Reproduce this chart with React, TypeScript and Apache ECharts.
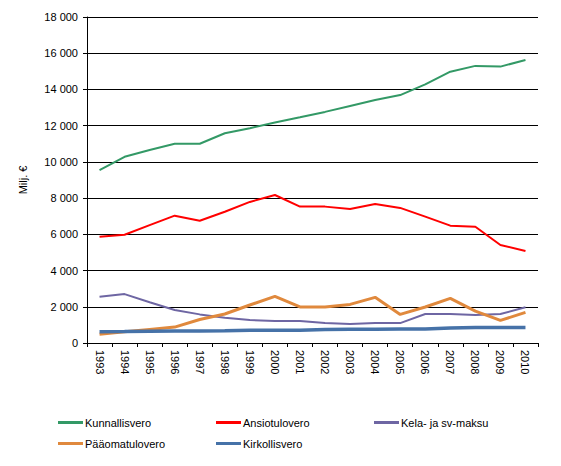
import { useEffect, useRef } from "react";
import * as echarts from "echarts";

const years = [
  "1993", "1994", "1995", "1996", "1997", "1998", "1999", "2000", "2001",
  "2002", "2003", "2004", "2005", "2006", "2007", "2008", "2009", "2010",
];

const kunnallisvero = [
  9550, 10280, 10660, 11000, 11000, 11580, 11860, 12170, 12460, 12760, 13090,
  13420, 13690, 14280, 14980, 15300, 15260, 15630,
];
const ansiotulovero = [
  5870, 5980, 6510, 7030, 6750, 7250, 7790, 8170, 7530, 7530, 7400, 7680,
  7460, 6980, 6480, 6420, 5410, 5080,
];
const kelaMaksu = [
  2560, 2700, 2250, 1820, 1580, 1400, 1270, 1210, 1210, 1100, 1050, 1100,
  1100, 1600, 1600, 1550, 1600, 1970,
];
const paaomatulovero = [
  480, 620, 750, 880, 1300, 1600, 2100, 2570, 1990, 1990, 2130, 2520, 1580,
  1990, 2460, 1760, 1250, 1690,
];
const kirkollisvero = [
  620, 630, 650, 660, 660, 670, 700, 710, 710, 740, 760, 760, 770, 770, 830,
  850, 850, 850,
];

const yTicks = { min: 0, max: 18000, interval: 2000 };

const font = "'Liberation Sans', Arial, sans-serif";

function line(name: string, data: number[], color: string, width: number) {
  return {
    name,
    type: "line",
    data,
    symbol: "none",
    color,
    lineStyle: { color, width },
  };
}

function legend(left: number, names: string[]) {
  return {
    left,
    top: 412,
    orient: "vertical",
    icon: "rect",
    itemWidth: 25,
    itemHeight: 3,
    itemGap: 10,
    data: names,
    textStyle: { fontFamily: font, fontSize: 11, color: "#000", padding: [0, 0, 0, -3] },
  };
}

function Chart() {
  const chartRef = useRef<HTMLDivElement>(null);

  useEffect(() => {
    if (!chartRef.current) return;
    const chart = echarts.init(chartRef.current, undefined, { renderer: "svg" });

    chart.setOption({
      animation: false,
      textStyle: { fontFamily: font },
      grid: { left: 87, right: 23, top: 17, bottom: 123 },
      legend: [
        legend(53, ["Kunnallisvero", "Pääomatulovero"]),
        legend(211, ["Ansiotulovero", "Kirkollisvero"]),
        legend(369, ["Kela- ja sv-maksu"]),
      ],
      xAxis: {
        type: "category",
        data: years,
        boundaryGap: true,
        axisLine: { lineStyle: { color: "#000", width: 1 } },
        axisTick: { show: true, length: 4, lineStyle: { color: "#000" } },
        axisLabel: {
          rotate: -90,
          color: "#000",
          fontSize: 11,
          fontFamily: font,
          margin: 7,
          interval: 0,
        },
      },
      yAxis: {
        type: "value",
        min: yTicks.min,
        max: yTicks.max,
        interval: yTicks.interval,
        name: "Milj. €",
        nameLocation: "middle",
        nameRotate: 90,
        nameGap: 59,
        nameTextStyle: { color: "#000", fontSize: 11, fontFamily: font },
        axisLine: { show: true, lineStyle: { color: "#000", width: 1 } },
        axisTick: { show: true, length: 4, lineStyle: { color: "#000" } },
        splitLine: { lineStyle: { color: "#000", width: 1 } },
        axisLabel: {
          color: "#000",
          fontSize: 11,
          fontFamily: font,
          margin: 9,
          formatter: (v: number) =>
            String(v).replace(/\B(?=(\d{3})+(?!\d))/g, " "),
        },
      },
      series: [
        line("Kunnallisvero", kunnallisvero, "#339966", 2),
        line("Ansiotulovero", ansiotulovero, "#ff0000", 2),
        line("Kela- ja sv-maksu", kelaMaksu, "#6e66a3", 2),
        line("Pääomatulovero", paaomatulovero, "#e0893d", 3),
        line("Kirkollisvero", kirkollisvero, "#4672a8", 3.5),
      ],
    });

    return () => {
      chart.dispose();
    };
  }, []);

  return <div ref={chartRef} style={{ width: 561, height: 466 }} />;
}

export default function App() {
  return (
    <div style={{ position: "absolute", left: 0, top: 0 }}>
      <Chart />
    </div>
  );
}
